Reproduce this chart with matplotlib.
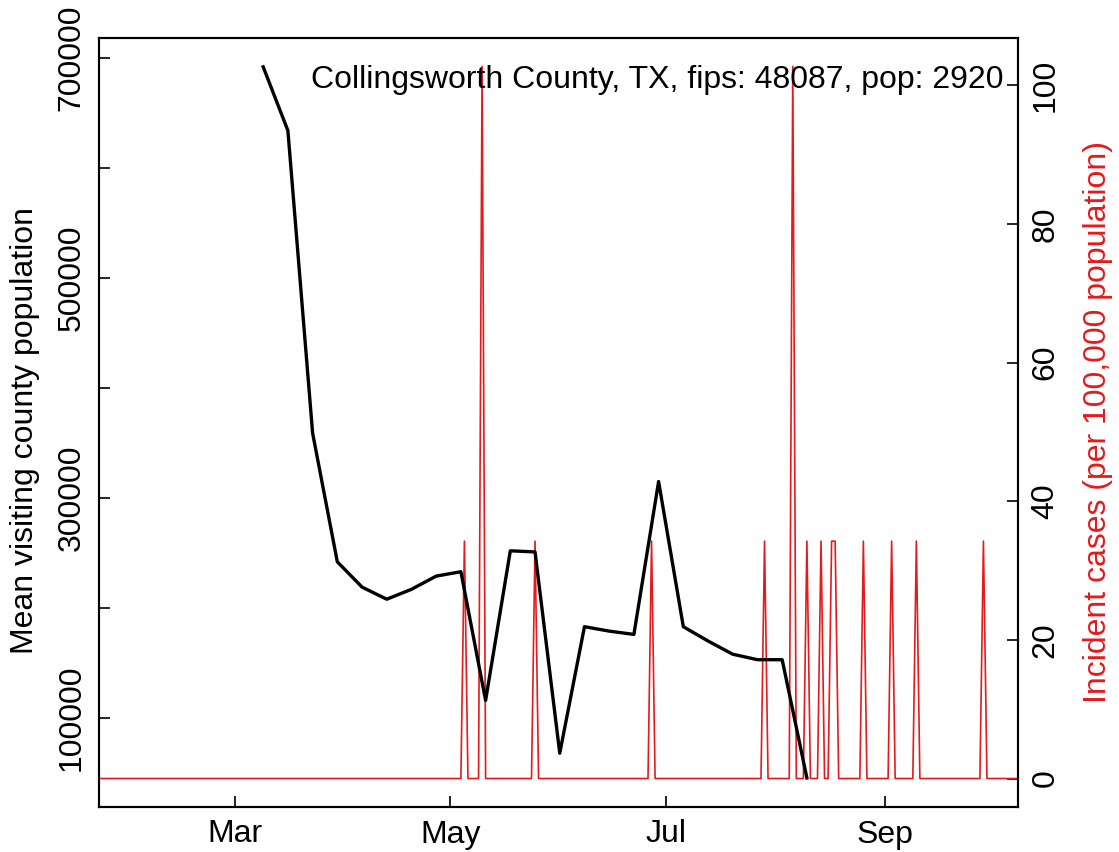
import numpy as np
import pandas as pd
import matplotlib
matplotlib.use("Agg")
import matplotlib.pyplot as plt

plt.rcParams['font.family'] = ['Liberation Sans', 'DejaVu Sans']

# weekly mean visiting county population (black line)
visit_dates = pd.date_range("2020-03-09", "2020-08-10", freq="7D")
visit_pop = [692000, 634000, 359000, 242000, 219000, 208000, 217000, 229000,
             233000, 116000, 252000, 251000, 68000, 183000, 179000, 176000,
             315000, 183000, 170000, 158000, 153000, 153000, 45500]

# daily incident cases per 100,000 (red line), zero on all other days
case_range = ("2020-01-22", "2020-10-10")
spike_dates = ["2020-05-05", "2020-05-10", "2020-05-25", "2020-06-27",
               "2020-07-29", "2020-08-06", "2020-08-10", "2020-08-14",
               "2020-08-17", "2020-08-18", "2020-08-26", "2020-09-03",
               "2020-09-10", "2020-09-29"]
spike_vals = [34.25, 102.74, 34.25, 34.25, 34.25, 102.74, 34.25, 34.25,
              34.25, 34.25, 34.25, 34.25, 34.25, 34.25]

title = "Collingsworth County, TX, fips: 48087, pop: 2920"
month_ticks = ["2020-03-01", "2020-05-01", "2020-07-01", "2020-09-01"]
month_labels = ["Mar", "May", "Jul", "Sep"]
left_ticks = [100000, 200000, 300000, 400000, 500000, 600000, 700000]
left_labels = ["100000", "", "300000", "", "500000", "", "700000"]
right_ticks = [0, 20, 40, 60, 80, 100]

cases = pd.Series(0.0, index=pd.date_range(*case_range, freq="D"))
cases[pd.to_datetime(spike_dates)] = spike_vals

red = '#E41A1C'
fs = 23

fig = plt.figure(figsize=(11.19, 8.52), dpi=100)
ax = fig.add_axes([99/1119, 45/852, 919/1119, 769/852])
ax2 = ax.twinx()
ax.set_zorder(ax2.get_zorder() + 1)
ax.patch.set_visible(False)

ax2.plot(cases.index, cases.values, color=red, lw=1.2)
ax.plot(visit_dates, visit_pop, color='black', lw=2.4)

ax.set_xlim(pd.Timestamp("2020-01-22 12:00"), pd.Timestamp("2020-10-08 19:00"))
ax.set_ylim(19100, 718200)
ax2.set_ylim(-4.11, 106.85)

ax.set_xticks(pd.to_datetime(month_ticks))
ax.set_xticklabels(month_labels)
ax.set_yticks(left_ticks)
ax.set_yticklabels(left_labels, rotation=90, va='center')
ax2.set_yticks(right_ticks)
ax2.set_yticklabels([str(t) for t in right_ticks], rotation=90, va='center')

for a in (ax, ax2):
    a.tick_params(direction='in', length=8, width=1.2, labelsize=fs, pad=9)
    for s in a.spines.values():
        s.set_linewidth(1.5)

ax.text(0.9837, 0.946, title, transform=ax.transAxes, ha='right', va='center',
        fontsize=fs)

fig.text(25/1119, 0.5 + (422 - 426)/852, "Mean visiting county population",
         rotation=90, ha='center', va='center', fontsize=fs)
fig.text(1098/1119, 0.5 + (426 - 422)/852, "Incident cases (per 100,000 population)",
         rotation=90, ha='center', va='center', fontsize=fs, color=red)

fig.savefig("out.png", dpi=100)
